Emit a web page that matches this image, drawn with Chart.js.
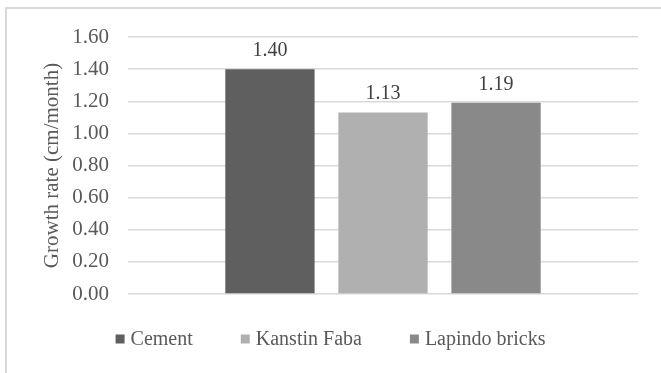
<!DOCTYPE html>
<html>
<head>
<meta charset="utf-8">
<title>Growth rate</title>
<script src="https://cdn.jsdelivr.net/npm/chart.js@4/dist/chart.umd.min.js"></script>
<style>
  html, body { margin: 0; padding: 0; background: #fff; }
  #wrap { width: 661px; height: 373px; position: relative; }
</style>
</head>
<body>
<div id="wrap"><canvas id="growthChart" width="661" height="373"></canvas></div>
<script>
// growth rate per medium (cm/month)
const categories = [''];
const seriesNames = ['Cement', 'Kanstin Faba', 'Lapindo bricks'];
const seriesValues = [[1.40], [1.13], [1.19]];
const seriesColors = ['#5f5f5f', '#b0b0b0', '#898989'];
const yTicks = ['0.00', '0.20', '0.40', '0.60', '0.80', '1.00', '1.20', '1.40', '1.60'];

const FONT = "'Liberation Serif', 'Times New Roman', serif";
const TEXT = '#595959';
const GRID = '#d9d9d9';

// outer frame of the chart
const framePlugin = {
  id: 'frame',
  beforeDraw(chart) {
    const ctx = chart.ctx;
    ctx.save();
    ctx.strokeStyle = GRID;
    ctx.lineWidth = 2;
    ctx.strokeRect(6, 8, chart.width + 20, chart.height + 20);
    ctx.restore();
  }
};

// value labels above each bar
const valueLabels = {
  id: 'valueLabels',
  afterDatasetsDraw(chart) {
    const ctx = chart.ctx;
    ctx.save();
    ctx.font = '20px ' + FONT;
    ctx.fillStyle = '#404040';
    ctx.textAlign = 'center';
    ctx.textBaseline = 'alphabetic';
    chart.data.datasets.forEach((ds, i) => {
      chart.getDatasetMeta(i).data.forEach((bar, j) => {
        ctx.fillText(ds.data[j].toFixed(2), bar.x, bar.y - 13);
      });
    });
    ctx.restore();
  }
};

// legend row centred under the plot, square markers
const bottomLegend = {
  id: 'bottomLegend',
  afterDraw(chart) {
    const ctx = chart.ctx;
    const box = 9, gapText = 6, gapItem = 48;
    ctx.save();
    ctx.font = '20px ' + FONT;
    ctx.textBaseline = 'middle';
    const widths = seriesNames.map(n => box + gapText + ctx.measureText(n).width);
    const total = widths.reduce((a, b) => a + b, 0) + gapItem * (widths.length - 1);
    let x = (chart.width - total) / 2;
    const y = 339;
    seriesNames.forEach((name, i) => {
      ctx.fillStyle = seriesColors[i];
      ctx.fillRect(x, y - box / 2, box, box);
      ctx.fillStyle = TEXT;
      ctx.fillText(name, x + box + gapText, y + 1);
      x += widths[i] + gapItem;
    });
    ctx.restore();
  }
};

new Chart(document.getElementById('growthChart'), {
  type: 'bar',
  data: {
    labels: categories,
    datasets: seriesNames.map((name, i) => ({
      label: name,
      data: seriesValues[i],
      backgroundColor: seriesColors[i],
      categoryPercentage: 0.665,
      barPercentage: 0.79
    }))
  },
  options: {
    responsive: false,
    animation: false,
    layout: { padding: { left: 0, right: 23, top: 37, bottom: 79 } },
    plugins: {
      legend: { display: false },
      tooltip: { enabled: false }
    },
    scales: {
      x: { display: false },
      y: {
        min: 0,
        max: 1.6,
        afterFit(scale) { scale.width = 128; },
        afterBuildTicks(scale) {
          scale.ticks = yTicks.map(t => ({ value: parseFloat(t) }));
        },
        ticks: {
          padding: 19,
          color: TEXT,
          font: { family: FONT, size: 21 },
          callback: (v, i) => yTicks[i]
        },
        grid: { color: GRID, lineWidth: 1.5, drawTicks: false },
        border: { display: false },
        title: {
          display: true,
          text: 'Growth rate (cm/month)',
          color: TEXT,
          font: { family: FONT, size: 21 },
          padding: { top: 40 }
        }
      }
    }
  },
  plugins: [framePlugin, valueLabels, bottomLegend]
});
</script>
</body>
</html>
